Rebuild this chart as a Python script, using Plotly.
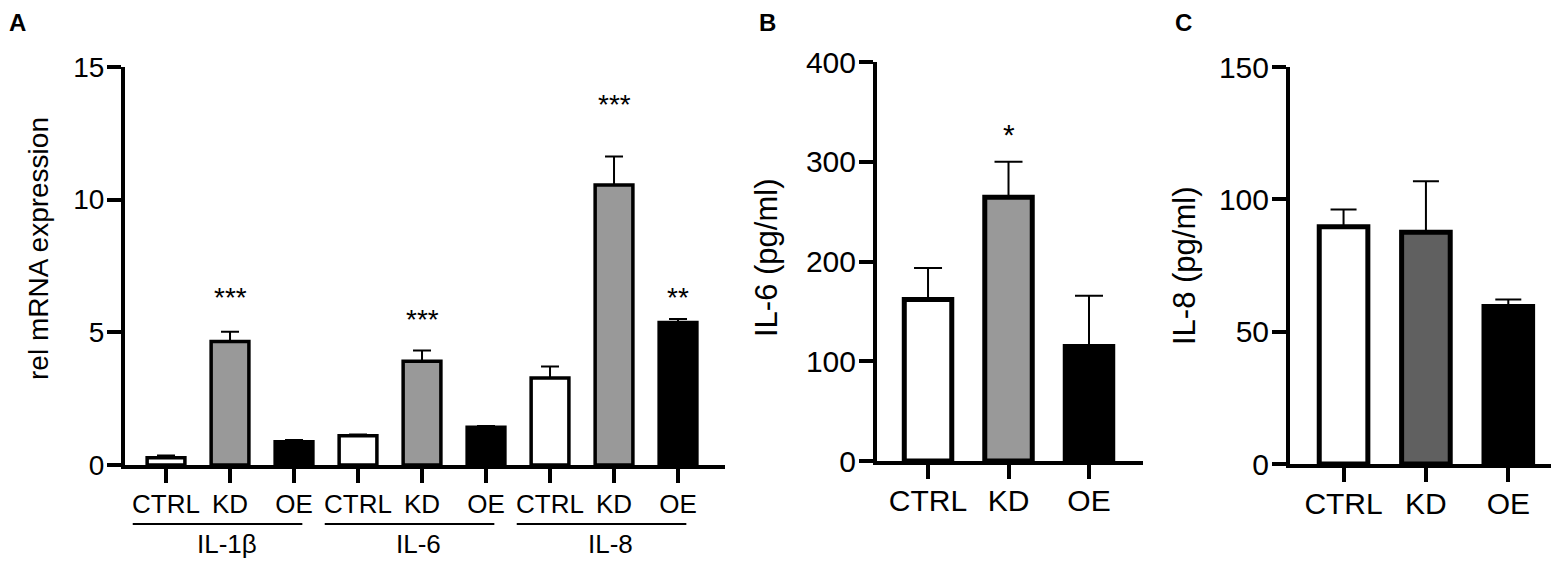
import plotly.graph_objects as go

FONT = "Liberation Sans, Arial, sans-serif"

# --- panel A: rel mRNA expression ---
genes = ["IL-1β", "IL-6", "IL-8"]
conditions = ["CTRL", "KD", "OE"]
mrna_mean = [0.27, 4.65, 0.88, 1.10, 3.91, 1.42, 3.28, 10.55, 5.37]
mrna_sem = [0.09, 0.37, 0.06, 0.05, 0.41, 0.05, 0.43, 1.08, 0.13]
mrna_stars = ["", "***", "", "", "***", "", "", "***", "**"]
mrna_star_y = [0, 6.3, 0, 0, 5.5, 0, 0, 13.6, 6.3]

# --- panel B: IL-6 protein ---
il6_mean = [162, 264.5, 114.7]
il6_sem = [31.5, 35.5, 51]
il6_stars = ["", "*", ""]
il6_star_y = [0, 327, 0]

# --- panel C: IL-8 protein ---
il8_mean = [89.6, 87.6, 59.5]
il8_sem = [6.6, 19.2, 2.7]

COLORS_A = {"CTRL": "#ffffff", "KD": "#999999", "OE": "#000000"}
COLORS_B = {"CTRL": "#ffffff", "KD": "#999999", "OE": "#000000"}
COLORS_C = {"CTRL": "#ffffff", "KD": "#606060", "OE": "#000000"}

W, H = 1559, 564
OFF = 8  # page body margin


def px_x(v):
    return (v - OFF) / W


def px_y(v):
    return 1 - (v - OFF) / H


fig = go.Figure()

xa = list(range(len(genes) * len(conditions)))
labels_a = conditions * len(genes)
fig.add_trace(go.Bar(
    x=xa, y=mrna_mean, width=0.59,
    marker=dict(color=[COLORS_A[c] for c in labels_a], line=dict(color="black", width=3.5)),
    error_y=dict(type="data", symmetric=False, array=mrna_sem, arrayminus=[0] * len(xa),
                 color="black", thickness=2, width=9),
    xaxis="x", yaxis="y", showlegend=False,
))

xb = list(range(len(conditions)))
fig.add_trace(go.Bar(
    x=xb, y=il6_mean, width=0.59,
    marker=dict(color=[COLORS_B[c] for c in conditions], line=dict(color="black", width=5)),
    error_y=dict(type="data", symmetric=False, array=il6_sem, arrayminus=[0] * 3,
                 color="black", thickness=2, width=14),
    xaxis="x2", yaxis="y2", showlegend=False,
))
fig.add_trace(go.Bar(
    x=xb, y=il8_mean, width=0.59,
    marker=dict(color=[COLORS_C[c] for c in conditions], line=dict(color="black", width=5)),
    error_y=dict(type="data", symmetric=False, array=il8_sem, arrayminus=[0] * 3,
                 color="black", thickness=2, width=13),
    xaxis="x3", yaxis="y3", showlegend=False,
))

axis_common = dict(showline=True, linecolor="black", linewidth=4, ticks="outside",
                   ticklen=14, tickwidth=4, tickcolor="black", showgrid=False,
                   zeroline=False, fixedrange=True)
ycommon = dict(ticklabelstandoff=-3, **axis_common)

fig.update_layout(
    width=W, height=H,
    paper_bgcolor="white", plot_bgcolor="white",
    margin=dict(l=0, r=0, t=0, b=0, autoexpand=False),
    font=dict(family=FONT, color="black", size=28),
    xaxis=dict(domain=[px_x(125), px_x(725)], range=[-0.641, 8.734], anchor="y",
               tickvals=xa, ticktext=labels_a, tickfont=dict(size=26),
               ticklabelstandoff=-1, **axis_common),
    yaxis=dict(domain=[px_y(465), px_y(67)], range=[0, 15], anchor="x",
               tickvals=[0, 5, 10, 15], tickfont=dict(size=28), **ycommon),
    xaxis2=dict(domain=[px_x(877), px_x(1143)], range=[-0.634, 2.671], anchor="y2",
                tickvals=xb, ticktext=conditions, tickfont=dict(size=30),
                ticklabelstandoff=-4, **axis_common),
    yaxis2=dict(domain=[px_y(461), px_y(62)], range=[0, 400], anchor="x2",
                tickvals=[0, 100, 200, 300, 400], tickfont=dict(size=30), **ycommon),
    xaxis3=dict(domain=[px_x(1290), px_x(1559 + OFF)], range=[-0.65, 2.7125], anchor="y3",
                tickvals=xb, ticktext=conditions, tickfont=dict(size=30),
                ticklabelstandoff=-4, **axis_common),
    yaxis3=dict(domain=[px_y(464), px_y(67)], range=[0, 150], anchor="x3",
                tickvals=[0, 50, 100, 150], tickfont=dict(size=30), **ycommon),
)

ann = []
# significance stars
for i, s in enumerate(mrna_stars):
    if s:
        ann.append(dict(x=xa[i], y=mrna_star_y[i], xref="x", yref="y", text=s,
                        xanchor="center", yanchor="middle", showarrow=False, font=dict(size=28)))
for i, s in enumerate(il6_stars):
    if s:
        ann.append(dict(x=xb[i], y=il6_star_y[i], xref="x2", yref="y2", text=s,
                        xanchor="center", yanchor="middle", showarrow=False, font=dict(size=30)))

# gene group lines + labels under panel A
shapes = []
for g, gene in enumerate(genes):
    first = g * len(conditions)
    last = first + len(conditions) - 1
    shapes.append(dict(type="line", xref="x", yref="paper",
                       x0=first - 0.52, x1=last + 0.13, y0=px_y(524), y1=px_y(524),
                       line=dict(color="black", width=2)))
    ann.append(dict(x=first + 0.95, y=px_y(544), xref="x", yref="paper", text=gene,
                    xanchor="center", yanchor="middle", showarrow=False, font=dict(size=26)))

# y axis titles
titles = [("rel mRNA expression", 39, 249, 28), ("IL-6 (pg/ml)", 767, 258, 31),
          ("IL-8 (pg/ml)", 1185, 266, 31)]
for text, tx, ty, size in titles:
    ann.append(dict(x=px_x(tx), y=px_y(ty), xref="paper", yref="paper", text=text,
                    textangle=-90, xanchor="center", yanchor="middle", showarrow=False,
                    font=dict(size=size)))

# panel letters (kept just inside the top/left edge of the figure)
letters = [("A", 0.0, "left"), ("B", px_x(767), "center"), ("C", px_x(1183), "center")]
for letter, lx, anchor in letters:
    ann.append(dict(x=lx, y=1.0, xref="paper", yref="paper", text="<b>%s</b>" % letter,
                    xanchor=anchor, yanchor="top", borderpad=0, showarrow=False,
                    font=dict(size=24)))

fig.update_layout(annotations=ann, shapes=shapes)

fig.write_html("out.html")
